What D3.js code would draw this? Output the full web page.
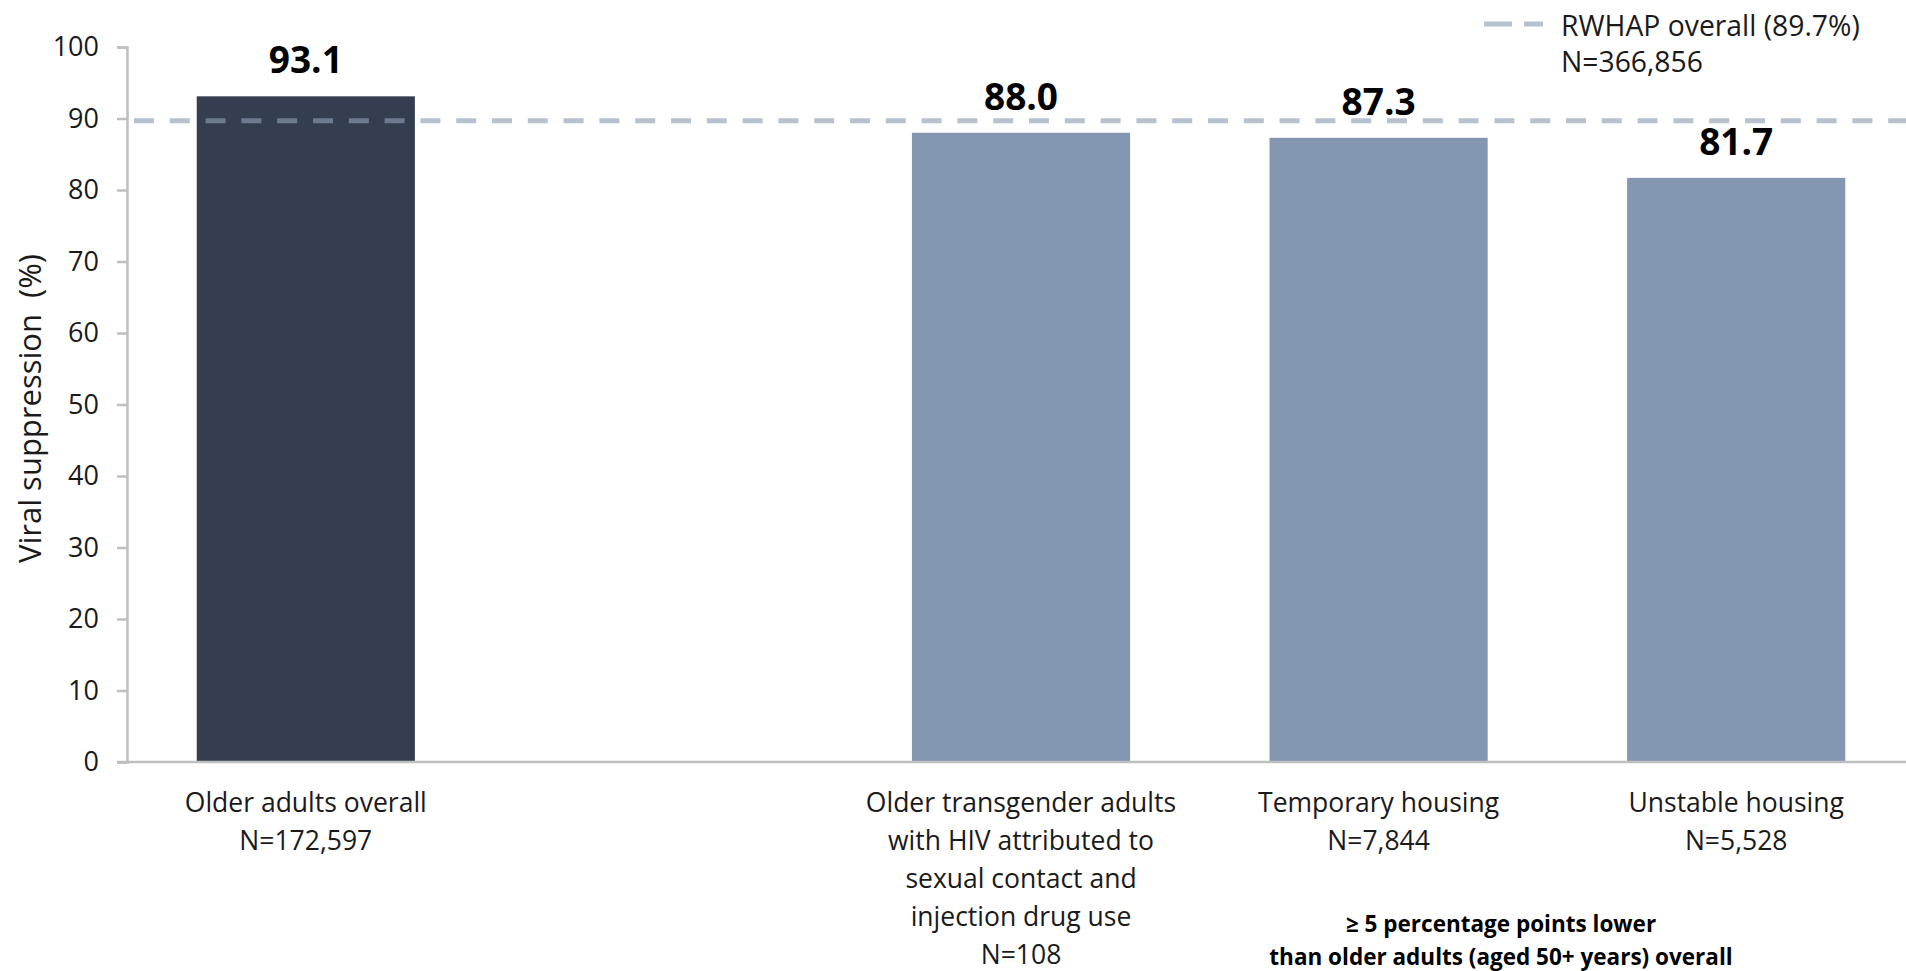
<!DOCTYPE html>
<html>
<head>
<meta charset="utf-8">
<script src="https://cdn.jsdelivr.net/npm/d3@7"></script>
<style>
  html, body { margin: 0; padding: 0; background: #fff; }
  svg { display: block; font-family: "Open Sans", sans-serif; }
</style>
</head>
<body>
<svg id="chart" width="1906" height="971"></svg>
<script>
// ---- data ----
const categories = ["Older adults overall", "__gap__", "Older transgender adults", "Temporary housing", "Unstable housing"];
const labelLines = [
  ["Older adults overall", "N=172,597"],
  [],
  ["Older transgender adults", "with HIV attributed to", "sexual contact and", "injection drug use", "N=108"],
  ["Temporary housing", "N=7,844"],
  ["Unstable housing", "N=5,528"]
];
const values = [93.1, null, 88.0, 87.3, 81.7];
const highlight = [true, false, false, false, false];
const referenceValue = 89.7;
const referenceLabel = ["RWHAP overall (89.7%)", "N=366,856"];
const yTicks = [0, 10, 20, 30, 40, 50, 60, 70, 80, 90, 100];
const yTitle = "Viral suppression\u00a0\u00a0(%)";
const footnote = ["\u2265 5 percentage points lower", "than older adults (aged 50+ years) overall"];

(function () {
// ---- layout ----
const svg = d3.select("#chart");
const mLeft = 127, mTop = 47, mBottom = 762, rightEnd = 1915;

const x = d3.scaleBand().domain(categories).range([mLeft, rightEnd])
  .paddingInner(0.39).paddingOuter(0.195);
const y = d3.scaleLinear().domain([0, 100]).range([mBottom, mTop]);

const data = categories.map((c, i) => ({ c, v: values[i], hl: highlight[i], lines: labelLines[i] }));

// bars
svg.append("g").selectAll("rect")
  .data(data.filter(d => d.v != null))
  .join("rect")
  .attr("x", d => x(d.c))
  .attr("width", x.bandwidth())
  .attr("y", d => y(d.v))
  .attr("height", d => y(0) - y(d.v))
  .attr("fill", d => d.hl ? "#343e50" : "#8497b0");

// y axis
const yAxis = svg.append("g")
  .attr("transform", `translate(${mLeft},0)`)
  .call(d3.axisLeft(y).tickValues(yTicks).tickSize(10).tickPadding(18));
yAxis.select(".domain").attr("stroke", "#bfbfbf").attr("stroke-width", 2.5);
yAxis.selectAll(".tick line").attr("stroke", "#bfbfbf").attr("stroke-width", 2.5);
yAxis.selectAll(".tick text").attr("font-size", 27).attr("fill", "#1a1a1a")
  .attr("font-family", "Open Sans, sans-serif");

// x axis line
svg.append("line")
  .attr("x1", mLeft - 10).attr("x2", 1906)
  .attr("y1", y(0)).attr("y2", y(0))
  .attr("stroke", "#bfbfbf").attr("stroke-width", 2.5);

// reference dashed line
svg.append("line")
  .attr("x1", mLeft + 7).attr("x2", 1906)
  .attr("y1", y(referenceValue)).attr("y2", y(referenceValue))
  .attr("stroke", "rgb(141,157,180)").attr("stroke-opacity", 0.63)
  .attr("stroke-width", 5).attr("stroke-dasharray", "20,15.8");

// value labels
svg.append("g").selectAll("text")
  .data(data.filter(d => d.v != null))
  .join("text")
  .attr("x", d => x(d.c) + x.bandwidth() / 2)
  .attr("y", d => y(d.v) - 23)
  .attr("text-anchor", "middle")
  .attr("font-size", 37).attr("font-weight", "bold").attr("fill", "#000")
  .text(d => d.v.toFixed(1));

// category labels
const lineH = 38;
const cat = svg.append("g").selectAll("text")
  .data(data.filter(d => d.lines.length))
  .join("text")
  .attr("text-anchor", "middle")
  .attr("font-size", 26.5).attr("fill", "#1a1a1a");
cat.selectAll("tspan")
  .data(d => d.lines.map(l => ({ l, cx: x(d.c) + x.bandwidth() / 2 })))
  .join("tspan")
  .attr("x", t => t.cx)
  .attr("y", (t, i) => y(0) + 50 + i * lineH)
  .text(t => t.l);

// y title
svg.append("text")
  .attr("transform", `translate(41, ${(mTop + mBottom) / 2 + 4}) rotate(-90)`)
  .attr("text-anchor", "middle")
  .attr("font-size", 31).attr("fill", "#1a1a1a")
  .text(yTitle);

// legend
svg.append("line")
  .attr("x1", 1484).attr("x2", 1543).attr("y1", 24).attr("y2", 24)
  .attr("stroke", "rgb(141,157,180)").attr("stroke-opacity", 0.63)
  .attr("stroke-width", 5).attr("stroke-dasharray", "28,12");
svg.append("g").selectAll("text")
  .data(referenceLabel)
  .join("text")
  .attr("x", 1561).attr("y", (d, i) => 36 + i * 35.5)
  .attr("font-size", 28.3).attr("fill", "#1a1a1a")
  .text(d => d);

// footnote
svg.append("g").selectAll("text")
  .data(footnote)
  .join("text")
  .attr("x", 1501).attr("y", (d, i) => 932 + i * 33)
  .attr("text-anchor", "middle")
  .attr("font-size", 22.5).attr("font-weight", "bold").attr("fill", "#000")
  .text(d => d);
})();
</script>
</body>
</html>
